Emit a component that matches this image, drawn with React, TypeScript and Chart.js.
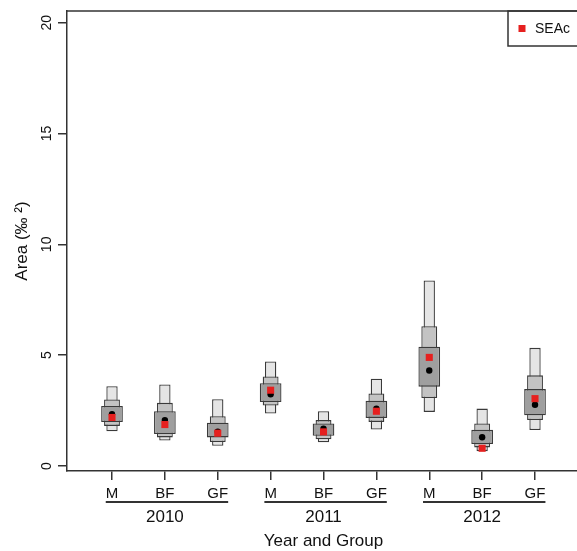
import React, { useEffect, useRef } from 'react';
import { Chart, registerables } from 'chart.js';

Chart.register(...registerables);

// ---- data ----
const groupLabels = ['M', 'BF', 'GF', 'M', 'BF', 'GF', 'M', 'BF', 'GF'];
const years = ['2010', '2011', '2012'];
const positions = [1, 2, 3, 4, 5, 6, 7, 8, 9];
const yTicks = [0, 5, 10, 15, 20];

// 95% credible interval (narrow, lightest box)
const ci95Low = [1.57, 1.15, 0.91, 2.37, 1.07, 1.65, 2.44, 0.67, 1.62];
const ci95High = [3.6, 3.68, 3.01, 4.72, 2.47, 3.94, 8.37, 2.59, 5.33];
// 75% credible interval (middle box)
const ci75Low = [1.81, 1.29, 1.08, 2.73, 1.21, 1.99, 3.07, 0.84, 2.07];
const ci75High = [3.0, 2.85, 2.25, 4.04, 2.07, 3.27, 6.31, 1.92, 4.09];
// 50% credible interval (widest, darkest box)
const ci50Low = [1.98, 1.44, 1.29, 2.89, 1.36, 2.17, 3.58, 0.99, 2.29];
const ci50High = [2.71, 2.47, 1.95, 3.73, 1.92, 2.94, 5.38, 1.63, 3.47];
// mode (black dot) and SEAc (red square)
const modeValues = [2.34, 2.07, 1.55, 3.24, 1.68, 2.59, 4.31, 1.3, 2.76];
const seacValues = [2.19, 1.87, 1.48, 3.42, 1.54, 2.47, 4.9, 0.8, 3.04];

const FONT = '"Liberation Sans", Arial, Helvetica, sans-serif';
const LINE = '#333333';
const TEXT = '#111111';
const RED = '#e6201f';

const annotatePlugin = {
  id: 'annotate',
  afterDraw(chart: any) {
    const { ctx, chartArea, scales } = chart;
    const x = scales.x;
    const y = scales.y;
    ctx.save();
    ctx.strokeStyle = LINE;
    ctx.lineWidth = 1.5;
    // top border of the box
    ctx.beginPath();
    ctx.moveTo(chartArea.left, chartArea.top);
    ctx.lineTo(chartArea.right + 10, chartArea.top);
    ctx.stroke();

    ctx.fillStyle = TEXT;
    ctx.textAlign = 'center';
    ctx.textBaseline = 'middle';

    // y tick labels (rotated, parallel to axis)
    ctx.font = `14px ${FONT}`;
    yTicks.forEach((v) => {
      const py = y.getPixelForValue(v);
      ctx.save();
      ctx.translate(chartArea.left - 20, py);
      ctx.rotate(-Math.PI / 2);
      ctx.fillText(String(v), 0, 0);
      ctx.restore();
    });

    // y title
    ctx.save();
    ctx.font = `17px ${FONT}`;
    ctx.translate(chartArea.left - 45, (chartArea.top + chartArea.bottom) / 2);
    ctx.rotate(-Math.PI / 2);
    ctx.fillText('Area (‰ ²)', 0, 0);
    ctx.restore();

    // x group labels
    ctx.font = `15px ${FONT}`;
    const labelY = chartArea.bottom + 23;
    groupLabels.forEach((lab, i) => {
      ctx.fillText(lab, x.getPixelForValue(positions[i]), labelY);
    });

    // underlines and years
    years.forEach((yr, g) => {
      const first = g * 3;
      const last = g * 3 + 2;
      const x0 = x.getPixelForValue(positions[first]) - ctx.measureText(groupLabels[first]).width / 2;
      const x1 = x.getPixelForValue(positions[last]) + ctx.measureText(groupLabels[last]).width / 2;
      ctx.lineWidth = 2;
      ctx.beginPath();
      ctx.moveTo(x0, chartArea.bottom + 31);
      ctx.lineTo(x1, chartArea.bottom + 31);
      ctx.stroke();
      ctx.save();
      ctx.font = `17px ${FONT}`;
      ctx.fillText(yr, x.getPixelForValue(positions[first + 1]), chartArea.bottom + 46);
      ctx.restore();
    });

    // x title
    ctx.font = `17px ${FONT}`;
    ctx.fillText('Year and Group', x.getPixelForValue(positions[4]), chartArea.bottom + 70);

    // legend box (top right)
    const lx = chartArea.right - 69;
    const ly = chartArea.top;
    ctx.lineWidth = 1.5;
    ctx.strokeRect(lx, ly, 120, 35);
    ctx.fillStyle = RED;
    ctx.fillRect(lx + 10.5, ly + 14, 7, 7);
    ctx.fillStyle = TEXT;
    ctx.textAlign = 'left';
    ctx.font = `14px ${FONT}`;
    ctx.fillText('SEAc', lx + 27, ly + 18);
    ctx.restore();
  },
};

export default function App() {
  const canvasRef = useRef<HTMLCanvasElement | null>(null);

  useEffect(() => {
    if (!canvasRef.current) return;
    const mk = (lo: number[], hi: number[]) => positions.map((p, i) => ({ x: p, y: [lo[i], hi[i]] }));
    const chart = new Chart(canvasRef.current, {
      type: 'bar',
      data: {
        datasets: [
          {
            type: 'scatter',
            label: 'SEAc',
            data: positions.map((p, i) => ({ x: p, y: seacValues[i] })),
            pointStyle: 'rect',
            pointRadius: 5,
            backgroundColor: RED,
            borderWidth: 0,
            order: 0,
          } as any,
          {
            type: 'scatter',
            label: 'Mode',
            data: positions.map((p, i) => ({ x: p, y: modeValues[i] })),
            pointStyle: 'circle',
            pointRadius: 3.2,
            backgroundColor: '#000000',
            borderWidth: 0,
            order: 1,
          } as any,
          {
            label: '50%',
            data: mk(ci50Low, ci50High) as any,
            backgroundColor: '#9f9f9f',
            borderColor: '#3a3a3a',
            borderWidth: 1.3,
            borderSkipped: false,
            barPercentage: 0.41,
            categoryPercentage: 1,
            grouped: false,
            order: 2,
          },
          {
            label: '75%',
            data: mk(ci75Low, ci75High) as any,
            backgroundColor: '#c3c3c3',
            borderColor: '#3a3a3a',
            borderWidth: 1.3,
            borderSkipped: false,
            barPercentage: 0.3,
            categoryPercentage: 1,
            grouped: false,
            order: 3,
          },
          {
            label: '95%',
            data: mk(ci95Low, ci95High) as any,
            backgroundColor: '#e5e5e5',
            borderColor: '#3a3a3a',
            borderWidth: 1.3,
            borderSkipped: false,
            barPercentage: 0.214,
            categoryPercentage: 1,
            grouped: false,
            order: 4,
          },
        ] as any,
      },
      options: {
        animation: false,
        responsive: false,
        devicePixelRatio: 1,
        layout: { padding: { left: 67, top: 11, right: 0, bottom: 80 } },
        plugins: { legend: { display: false }, tooltip: { enabled: false } },
        scales: {
          x: {
            type: 'linear',
            min: 0.149,
            max: 9.794,
            offset: false,
            afterBuildTicks: (s: any) => {
              s.ticks = positions.map((v) => ({ value: v }));
            },
            afterFit: (s: any) => {
              s.height = 0;
            },
            ticks: { display: false },
            grid: {
              offset: false,
              drawOnChartArea: false,
              drawTicks: true,
              tickLength: 9,
              color: LINE,
              lineWidth: 1.5,
            },
            border: { display: true, color: LINE, width: 1.5 },
          },
          y: {
            type: 'linear',
            min: -0.2256,
            max: 20.528,
            afterBuildTicks: (s: any) => {
              s.ticks = yTicks.map((v) => ({ value: v }));
            },
            afterFit: (s: any) => {
              s.width = 0;
            },
            ticks: { display: false },
            grid: {
              drawOnChartArea: false,
              drawTicks: true,
              tickLength: 9,
              color: LINE,
              lineWidth: 1.5,
            },
            border: { display: true, color: LINE, width: 1.5 },
          },
        },
      } as any,
      plugins: [annotatePlugin],
    });
    return () => chart.destroy();
  }, []);

  return (
    <div style={{ position: 'absolute', left: 0, top: 0, width: 577, height: 551, overflow: 'hidden', background: '#fff' }}>
      <canvas ref={canvasRef} width={582} height={551} />
    </div>
  );
}
